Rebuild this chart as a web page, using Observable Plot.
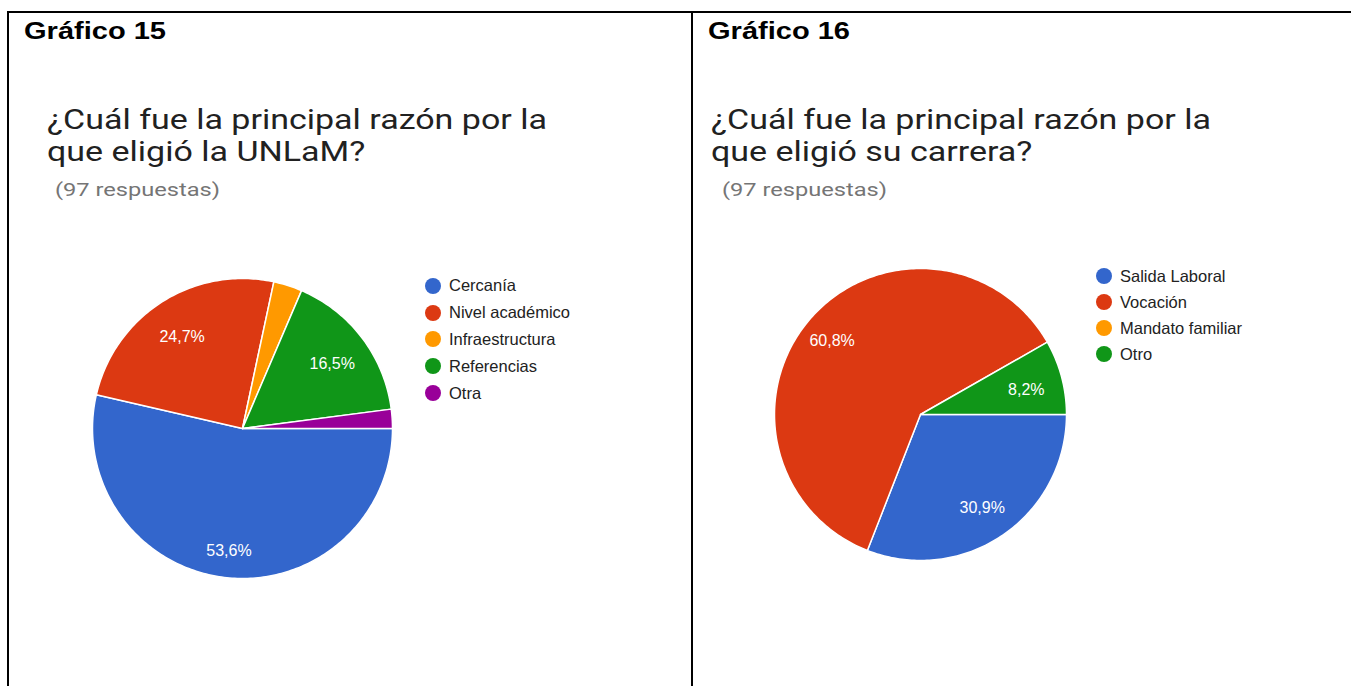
<!DOCTYPE html>
<html>
<head>
<meta charset="utf-8">
<script src="https://cdn.jsdelivr.net/npm/d3@7"></script>
<script src="https://cdn.jsdelivr.net/npm/@observablehq/plot@0.6"></script>
<style>
  html, body { margin: 0; padding: 0; background: #fff; }
  body { width: 1351px; height: 686px; position: relative; overflow: hidden; }
  .line { position: absolute; background: #000; }
  .abs { position: absolute; white-space: nowrap; transform-origin: 0 0; }
  .gtitle { font-family: "Liberation Sans", Arial, sans-serif; font-weight: bold; font-size: 23px; line-height: 23px; color: #000; }
  .qtitle { font-family: Roboto, sans-serif; font-size: 28px; line-height: 32px; color: #212121; }
  .resp { font-family: Roboto, sans-serif; font-size: 18px; line-height: 18px; color: #757575; }
  .legend { position: absolute; font-family: "Liberation Sans", Arial, sans-serif; font-size: 16.5px; color: #222; }
  .legend .item { position: absolute; white-space: nowrap; height: 0; }
  .legend .dot { position: absolute; width: 16px; height: 16px; border-radius: 50%; }
  .legend .lab { position: absolute; line-height: 16.5px; }
  .chart { position: absolute; }
</style>
</head>
<body>
<script>
// ---------- data ----------
const colors = ["#3366cc", "#dc3912", "#ff9900", "#109618", "#990099"];

const title15 = "Gráfico 15";
const question15 = ["¿Cuál fue la principal razón por la", "que eligió la UNLaM?"];
const categories15 = ["Cercanía", "Nivel académico", "Infraestructura", "Referencias", "Otra"];
const values15 = [52, 24, 3, 16, 2];

const title16 = "Gráfico 16";
const question16 = ["¿Cuál fue la principal razón por la", "que eligió su carrera?"];
const categories16 = ["Salida Laboral", "Vocación", "Mandato familiar", "Otro"];
const values16 = [30, 59, 0, 8];

const responses = "(97 respuestas)";

// ---------- layout helpers ----------
function el(cls, text, left, top, parent = document.body) {
  const d = document.createElement("div");
  d.className = cls;
  d.style.left = left + "px";
  d.style.top = top + "px";
  if (Array.isArray(text)) d.innerHTML = text.map(t => t.replace(/&/g, "&amp;")).join("<br>");
  else d.textContent = text;
  parent.appendChild(d);
  return d;
}
function hline(x, y, w, h) {
  const d = document.createElement("div");
  d.className = "line";
  Object.assign(d.style, {left: x + "px", top: y + "px", width: w + "px", height: h + "px"});
  document.body.appendChild(d);
}
function stretch(d, target) {
  const w = d.getBoundingClientRect().width;
  const s = target / w;
  d.style.transform = `scaleX(${s})`;
  return s;
}
function stretchBy(d, s) { d.style.transform = `scaleX(${s})`; }

// table borders
hline(7, 11, 1344, 2);
hline(7, 11, 2, 675);
hline(691, 11, 2, 675);

function panel(opts) {
  const {title, question, cats, vals, gx, qx, rx, svgLeft, svgTop, cx, cy, r, legX, legY, legStep} = opts;
  const g = el("abs gtitle", title, gx, 19.5);
  stretch(g, 142);
  const q = el("abs qtitle", question, qx, 103.5);
  const qLine = document.createElement("span");
  qLine.textContent = question[0];
  qLine.style.font = "28px Roboto";
  qLine.style.position = "absolute"; qLine.style.visibility = "hidden"; qLine.style.whiteSpace = "nowrap";
  document.body.appendChild(qLine);
  const s = 500 / qLine.getBoundingClientRect().width;
  qLine.remove();
  stretchBy(q, s);
  const rsp = el("abs resp", responses, rx, 181);
  stretch(rsp, 165);

  // pie
  const total = d3.sum(vals);
  const data = cats.map((c, i) => ({cat: c, value: vals[i], color: colors[i]}));
  const arcs = d3.pie().value(d => d.value).sort(null)
    .startAngle(Math.PI / 2).endAngle(Math.PI / 2 + 2 * Math.PI)(data);
  const marks = [];
  for (const a of arcs) {
    if (a.data.value <= 0) continue;
    const n = Math.max(2, Math.ceil((a.endAngle - a.startAngle) * 180 / Math.PI));
    const pts = [{x: 0, y: 0}];
    for (let k = 0; k <= n; k++) {
      const t = a.startAngle + (a.endAngle - a.startAngle) * k / n;
      pts.push({x: Math.sin(t), y: -Math.cos(t)});
    }
    marks.push(Plot.line(pts, {x: "x", y: "y", curve: "linear-closed", fill: a.data.color,
      stroke: "#fff", strokeWidth: 1.5, strokeLinejoin: "round"}));
  }
  const labels = arcs.filter(a => a.data.value / total >= 0.05).map(a => {
    const m = (a.startAngle + a.endAngle) / 2;
    const k = a.data.value / total > 0.5 ? 0.8 : 0.75;
    return {x: k * Math.sin(m), y: -k * Math.cos(m),
      text: (a.data.value / total * 100).toFixed(1).replace(".", ",") + "%"};
  });
  marks.push(Plot.text(labels, {x: "x", y: "y", text: "text", fill: "#fff", fontSize: 16, dy: 3,
    fontFamily: "Liberation Sans, Arial, sans-serif"}));

  const W = 560, H = 400;
  const px = cx - svgLeft, py = cy - svgTop;
  const chart = Plot.plot({
    width: W, height: H, margin: 0,
    x: {domain: [-1, 1], range: [px - r, px + r], axis: null},
    y: {domain: [-1, 1], range: [py - r, py + r], axis: null},
    style: {background: "transparent", overflow: "visible"},
    marks
  });
  chart.classList.add("chart");
  chart.style.left = svgLeft + "px";
  chart.style.top = svgTop + "px";
  document.body.appendChild(chart);

  // legend
  const leg = document.createElement("div");
  leg.className = "legend";
  leg.style.left = legX + "px";
  leg.style.top = legY + "px";
  cats.forEach((c, i) => {
    const it = document.createElement("div");
    it.className = "item";
    it.style.top = (i * legStep) + "px";
    const dot = document.createElement("div");
    dot.className = "dot";
    dot.style.background = colors[i];
    dot.style.left = "-8px"; dot.style.top = "-8px";
    const lab = document.createElement("div");
    lab.className = "lab";
    lab.textContent = c;
    lab.style.left = "16px"; lab.style.top = "-8.5px";
    it.appendChild(dot); it.appendChild(lab);
    leg.appendChild(it);
  });
  document.body.appendChild(leg);
}

panel({title: title15, question: question15, cats: categories15, vals: values15,
  gx: 24, qx: 47, rx: 55, svgLeft: 20, svgTop: 240, cx: 242, cy: 428, r: 150,
  legX: 433, legY: 285.7, legStep: 26.9});
panel({title: title16, question: question16, cats: categories16, vals: values16,
  gx: 708, qx: 711, rx: 722, svgLeft: 700, svgTop: 240, cx: 920, cy: 414, r: 146,
  legX: 1104, legY: 276, legStep: 26.1});
</script>
</body>
</html>
